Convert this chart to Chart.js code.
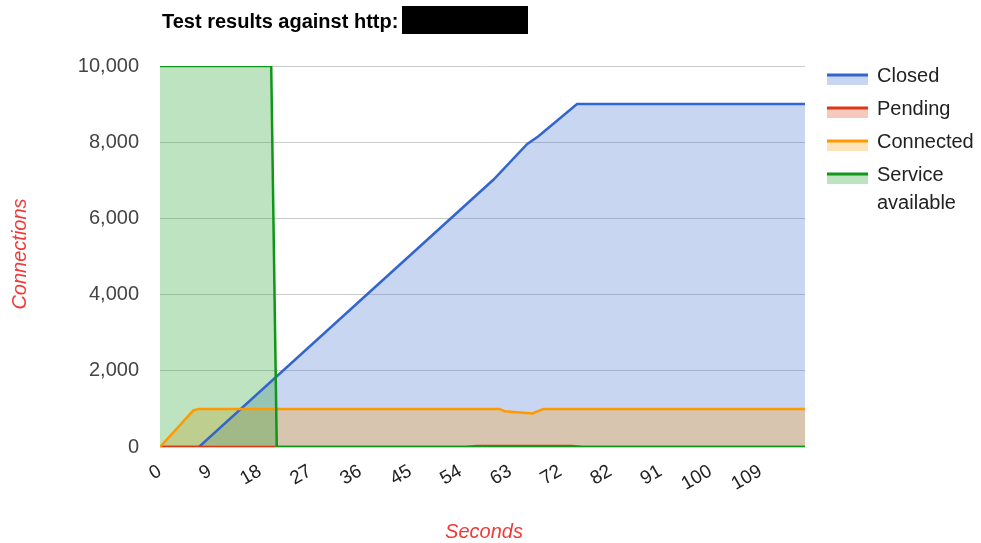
<!DOCTYPE html>
<html>
<head>
<meta charset="utf-8">
<script src="https://cdn.jsdelivr.net/npm/chart.js@4.4.1/dist/chart.umd.min.js"></script>
<style>
  html, body { margin: 0; padding: 0; background: #fff; }
  #wrap { width: 981px; height: 543px; }
</style>
</head>
<body>
<div id="wrap"><canvas id="c" width="981" height="543"></canvas></div>
<script>
// Rows of the test log (one per sample) and the labels shown under them
const lastRow = 116;
const xTickRows   = [0, 9, 18, 27, 36, 45, 54, 63, 72, 81, 90, 99, 108];
const xTickLabels = ['0', '9', '18', '27', '36', '45', '54', '63', '72', '82', '91', '100', '109'];
const yTicks = [0, 2000, 4000, 6000, 8000, 10000];

// Series as [row, connections] vertices
const closedPts    = [[0, 0], [7, 0], [60, 7020], [66, 7950], [68, 8150], [75, 9000], [116, 9000]];
const pendingPts   = [[0, 0], [55, 0], [57, 25], [74, 25], [76, 0], [116, 0]];
const connectedPts = [[0, 0], [6, 960], [7, 1000], [61, 1000], [62, 940], [67, 880], [68, 940], [69, 995], [116, 1000]];
const servicePts   = [[0, 10000], [20, 10000], [21, 0], [116, 0]];

const seriesNames  = ['Closed', 'Pending', 'Connected', 'Service available'];
const seriesColors = ['#3366cc', '#dc3912', '#ff9900', '#109618'];
const fillAlpha = 0.27;

const FONT = 'Arial, "Liberation Sans", sans-serif';

function toXY(pts) { return pts.map(p => ({ x: p[0], y: p[1] })); }
function rgba(hex, a) {
  const n = parseInt(hex.slice(1), 16);
  return `rgba(${(n >> 16) & 255},${(n >> 8) & 255},${n & 255},${a})`;
}

const seriesPts = [closedPts, pendingPts, connectedPts, servicePts];
const n = seriesPts.length;

// All shaded areas are painted first, then every line on top of them
const areaSets = seriesPts.map((pts, i) => ({
  label: seriesNames[i],
  data: toXY(pts),
  borderWidth: 0,
  borderColor: 'rgba(0,0,0,0)',
  backgroundColor: rgba(seriesColors[i], fillAlpha),
  pointRadius: 0,
  tension: 0,
  fill: 'origin',
  order: 2 * n - i
}));
const lineSets = seriesPts.map((pts, i) => ({
  label: seriesNames[i],
  data: toXY(pts),
  borderColor: seriesColors[i],
  borderWidth: 2.5,
  pointRadius: 0,
  tension: 0,
  fill: false,
  order: n - i
}));

// Title, axis titles and the legend panel
const decorations = {
  id: 'decorations',
  afterDraw(chart) {
    const ctx = chart.ctx;
    ctx.save();

    // Title
    ctx.fillStyle = '#000';
    ctx.font = 'bold 20px ' + FONT;
    ctx.textAlign = 'left';
    ctx.textBaseline = 'alphabetic';
    ctx.fillText('Test results against http:', 162, 28);
    ctx.fillRect(402, 6, 126, 28);

    // Axis titles
    ctx.fillStyle = '#f03a3a';
    ctx.font = 'italic 20px ' + FONT;
    ctx.textAlign = 'center';
    ctx.textBaseline = 'middle';
    ctx.fillText('Seconds', 484, 532);
    ctx.save();
    ctx.translate(20, 254);
    ctx.rotate(-Math.PI / 2);
    ctx.fillText('Connections', 0, 0);
    ctx.restore();

    // Legend
    const lx = 827, lw = 41, ty = 75, step = 33;
    ctx.font = '20px ' + FONT;
    ctx.textAlign = 'left';
    ctx.textBaseline = 'middle';
    seriesNames.forEach((name, i) => {
      const y = ty + i * step;
      ctx.fillStyle = rgba(seriesColors[i], fillAlpha);
      ctx.fillRect(lx, y, lw, 10);
      ctx.fillStyle = seriesColors[i];
      ctx.fillRect(lx, y - 1.5, lw, 3);
      ctx.fillStyle = '#222';
      name.split(' ').forEach((w, k) => ctx.fillText(w, 877, y + 1 + k * 28));
    });

    ctx.restore();
  }
};

new Chart(document.getElementById('c'), {
  type: 'line',
  data: { datasets: [...areaSets, ...lineSets] },
  options: {
    responsive: false,
    animation: false,
    devicePixelRatio: 1,
    layout: { padding: { top: 66, right: 176, bottom: 0, left: 0 } },
    plugins: {
      legend: { display: false },
      title: { display: false },
      tooltip: { enabled: false }
    },
    scales: {
      x: {
        type: 'linear',
        min: 0,
        max: lastRow,
        afterBuildTicks: s => { s.ticks = xTickRows.map(v => ({ value: v })); },
        afterFit: s => { s.height = 96; },
        grid: { display: false },
        border: { display: false },
        ticks: {
          autoSkip: false,
          minRotation: 30,
          maxRotation: 30,
          padding: 5,
          color: '#222',
          font: { family: FONT, size: 19 },
          callback: (v, i) => xTickLabels[i]
        }
      },
      y: {
        min: 0,
        max: 10000,
        afterBuildTicks: s => { s.ticks = yTicks.map(v => ({ value: v })); },
        afterFit: s => { s.width = 160; },
        grid: { color: '#cccccc', lineWidth: 1, drawTicks: false },
        border: { display: false },
        ticks: {
          padding: 21,
          color: '#444',
          font: { family: FONT, size: 20 },
          callback: v => v.toLocaleString('en-US')
        }
      }
    }
  },
  plugins: [decorations]
});
</script>
</body>
</html>
